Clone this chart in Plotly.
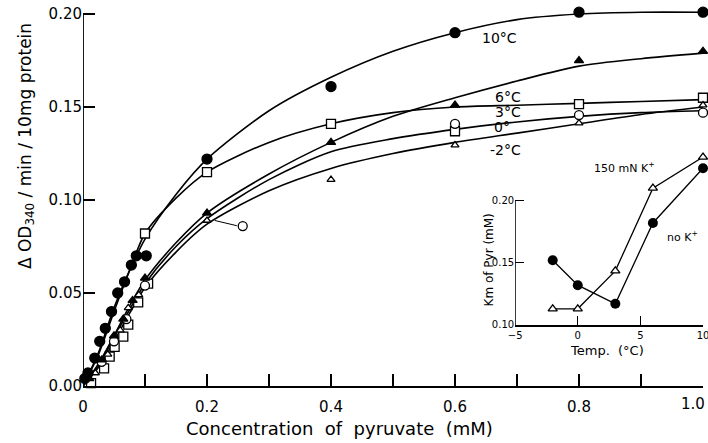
import plotly.graph_objects as go

# ---------------- main panel data ----------------
x_10C = [0.003, 0.008, 0.019, 0.027, 0.036, 0.046, 0.056, 0.067, 0.078, 0.086, 0.102, 0.2, 0.4, 0.6, 0.8, 1.0]
y_10C = [0.004, 0.007, 0.015, 0.024, 0.031, 0.040, 0.050, 0.056, 0.065, 0.070, 0.070, 0.122, 0.161, 0.190, 0.201, 0.201]

x_6C = [0.01, 0.03, 0.05, 0.065, 0.08, 0.1, 0.2, 0.4, 0.6, 0.8, 1.0]
y_6C = [0.004, 0.014, 0.027, 0.036, 0.046, 0.058, 0.093, 0.131, 0.151, 0.175, 0.180]

x_3C = [0.013, 0.034, 0.043, 0.051, 0.065, 0.073, 0.089, 0.1, 0.105, 0.2, 0.4, 0.6, 0.8, 1.0]
y_3C = [0.0015, 0.0095, 0.0158, 0.021, 0.0265, 0.033, 0.045, 0.082, 0.055, 0.115, 0.141, 0.137, 0.1516, 0.155]

x_0C = [0.03, 0.05, 0.07, 0.1, 0.2576, 0.6, 0.8, 1.0]
y_0C = [0.013, 0.024, 0.036, 0.054, 0.086, 0.141, 0.1457, 0.147]

x_m2C = [0.02, 0.04, 0.06, 0.073, 0.09, 0.2, 0.4, 0.6, 0.8, 1.0]
y_m2C = [0.007, 0.017, 0.030, 0.042, 0.049, 0.089, 0.111, 0.1295, 0.1414, 0.151]

# drawn curves
curve_x = [0, 0.025, 0.05, 0.075, 0.1, 0.15, 0.2, 0.3, 0.4, 0.5, 0.6, 0.7, 0.8, 0.9, 1.0]
curve_10C = [0, 0.018, 0.042, 0.062, 0.079, 0.103, 0.122, 0.148, 0.166, 0.180, 0.190, 0.197, 0.200, 0.201, 0.201]
curve_6C = [0, 0.012, 0.027, 0.043, 0.057, 0.077, 0.093, 0.114, 0.131, 0.145, 0.155, 0.164, 0.172, 0.176, 0.179]
curve_3C = [0, 0.017, 0.040, 0.062, 0.082, 0.101, 0.115, 0.131, 0.141, 0.147, 0.150, 0.151, 0.152, 0.153, 0.154]
curve_0C = [0, 0.011, 0.026, 0.041, 0.055, 0.075, 0.090, 0.111, 0.126, 0.133, 0.138, 0.142, 0.145, 0.147, 0.148]
curve_m2C = [0, 0.010, 0.024, 0.039, 0.053, 0.072, 0.087, 0.105, 0.117, 0.125, 0.131, 0.136, 0.141, 0.146, 0.150]

x_ticks = [0, 0.2, 0.4, 0.6, 0.8, 1.0]
x_ticktext = ["0", "0.2", "0.4", "0.6", "0.8", "1.0"]
y_ticks = [0.0, 0.05, 0.10, 0.15, 0.20]
y_ticktext = ["0.00", "0.05", "0.10", "0.15", "0.20"]

curve_labels = ["10°C", "6°C", "3°C", "0°", "-2°C"]
label_x = [0.671, 0.685, 0.685, 0.676, 0.681]
label_y = [0.187, 0.1556, 0.1472, 0.1392, 0.1269]

# ---------------- inset data ----------------
temp = [-2, 0, 3, 6, 10]
km_noK = [0.152, 0.132, 0.117, 0.182, 0.226]
km_150K = [0.113, 0.113, 0.1435, 0.210, 0.235]
inset_xticks = [-5, 0, 5, 10]
inset_yticks = [0.10, 0.15, 0.20]
inset_yticktext = ["0.10", "0.15", "0.20"]

FONT = "DejaVu Sans"
fig = go.Figure()

for cy in [curve_10C, curve_6C, curve_3C, curve_0C, curve_m2C]:
    fig.add_trace(go.Scatter(x=curve_x, y=cy, mode="lines",
                             line=dict(color="black", width=1.6, shape="spline", smoothing=0.8),
                             hoverinfo="skip", showlegend=False))

def pts(x, y, symbol, size, filled):
    fig.add_trace(go.Scatter(x=x, y=y, mode="markers", cliponaxis=False, showlegend=False,
                             marker=dict(symbol=symbol, size=size,
                                         color="black" if filled else "white",
                                         line=dict(color="black", width=1.3))))

pts(x_3C, y_3C, "square", 9, False)
pts(x_0C, y_0C, "circle", 9, False)
pts(x_m2C, y_m2C, "triangle-up", 7, False)
pts(x_6C, y_6C, "triangle-up", 8, True)
pts(x_10C, y_10C, "circle", 10, True)

# inset
fig.add_trace(go.Scatter(x=temp, y=km_noK, mode="lines+markers", xaxis="x2", yaxis="y2",
                         cliponaxis=False, showlegend=False,
                         line=dict(color="black", width=1.3),
                         marker=dict(symbol="circle", size=10, color="black")))
fig.add_trace(go.Scatter(x=temp, y=km_150K, mode="lines+markers", xaxis="x2", yaxis="y2",
                         cliponaxis=False, showlegend=False,
                         line=dict(color="black", width=1.3),
                         marker=dict(symbol="triangle-up", size=8, color="white",
                                     line=dict(color="black", width=1.3))))

annotations = []
for t, lx, ly in zip(curve_labels, label_x, label_y):
    annotations.append(dict(x=lx, y=ly, xref="x", yref="y", text=t, showarrow=False,
                            xanchor="center", yanchor="middle",
                            font=dict(family=FONT, size=14, color="black")))
annotations += [
    # leader from the displaced open circle back toward the curve
    dict(x=x_0C[4] - 0.045, y=y_0C[4] + 0.003, xref="x", yref="y",
         ax=x_0C[4] - 0.007, ay=y_0C[4], axref="x", ayref="y",
         text="", showarrow=True, arrowhead=0, arrowwidth=1, arrowcolor="black"),
    # last x tick label, kept inside the page edge
    dict(x=x_ticks[-1], y=0, xref="x", yref="y", text=x_ticktext[-1], showarrow=False,
         xanchor="right", yanchor="top", xshift=4, yshift=-7,
         font=dict(family=FONT, size=15, color="black")),
    dict(x=-0.092, y=0.633, xref="paper", yref="paper", textangle=-90,
         xanchor="center", yanchor="middle",
         text="Δ OD<sub>340</sub> / min / 10mg protein", showarrow=False,
         font=dict(family=FONT, size=17, color="black")),
    dict(x=0.4145, y=-0.111, xref="paper", yref="paper",
         xanchor="center", yanchor="middle",
         text="Concentration  of  pyruvate  (mM)", showarrow=False,
         font=dict(family=FONT, size=18, color="black")),
    dict(x=3.7, y=0.2266, xref="x2", yref="y2", text="150 mN K<sup>+</sup>", showarrow=False,
         xanchor="center", yanchor="middle",
         font=dict(family=FONT, size=11, color="black")),
    dict(x=8.4, y=0.171, xref="x2", yref="y2", text="no K<sup>+</sup>", showarrow=False,
         xanchor="center", yanchor="middle",
         font=dict(family=FONT, size=11, color="black")),
    dict(x=2.34, y=0.10, xref="x2", yref="y2", text="Temp.  (°C)", showarrow=False,
         xanchor="center", yanchor="middle",
         yshift=-26, font=dict(family=FONT, size=13, color="black")),
    dict(x=-5, y=0.152, xref="x2", yref="y2", text="Km of Pyr (mM)", showarrow=False,
         xanchor="center", yanchor="middle",
         textangle=-90, xshift=-26, font=dict(family=FONT, size=12, color="black")),
]

fig.update_layout(
    width=708, height=443,
    margin=dict(l=83, r=5, t=7, b=57, autoexpand=False),
    paper_bgcolor="white", plot_bgcolor="white",
    font=dict(family=FONT, color="black"),
    xaxis=dict(range=[0, 1.0], domain=[0, 1], tickmode="array", tickvals=x_ticks,
               ticktext=x_ticktext[:-1] + [""],
               ticks="inside", ticklen=12, tickwidth=1.5, tickcolor="black",
               minor=dict(dtick=0.1, tick0=0, ticks="inside", ticklen=12, tickwidth=1.5, tickcolor="black"),
               showline=True, linecolor="black", linewidth=1.8, showgrid=False, zeroline=False,
               ticklabeloverflow="allow", ticklabelstandoff=6, automargin=False,
               tickfont=dict(family=FONT, size=15)),
    yaxis=dict(range=[0, 0.2038], domain=[0, 1], tickmode="array", tickvals=y_ticks, ticktext=y_ticktext,
               ticks="inside", ticklen=12, tickwidth=1.5, tickcolor="black",
               showline=False, showgrid=False, zeroline=False, automargin=False,
               tickfont=dict(family=FONT, size=15)),
    xaxis2=dict(range=[-5, 10], domain=[0.697, 1.0], anchor="y2", tickmode="array", tickvals=inset_xticks,
                ticks="inside", ticklen=9, tickwidth=1.3, tickcolor="black",
                showline=True, linecolor="black", linewidth=1.5, showgrid=False, zeroline=False,
                ticklabeloverflow="allow", automargin=False, ticklabelstandoff=0,
                tickfont=dict(family=FONT, size=10)),
    yaxis2=dict(range=[0.10, 0.24], domain=[0.161, 0.6205], anchor="x2", tickmode="array",
                tickvals=inset_yticks, ticktext=inset_yticktext,
                ticks="inside", ticklen=9, tickwidth=1.3, tickcolor="black",
                showline=False, showgrid=False, zeroline=False, automargin=False,
                tickfont=dict(family=FONT, size=10)),
    shapes=[
        dict(type="line", xref="x", yref="y", x0=0, x1=0, y0=0, y1=0.20,
             line=dict(color="black", width=1.8)),
        dict(type="line", xref="x2", yref="y2", x0=-5, x1=-5, y0=0.10, y1=0.20,
             line=dict(color="black", width=1.5)),
    ],
    annotations=annotations,
)

fig.write_html("out.html")
